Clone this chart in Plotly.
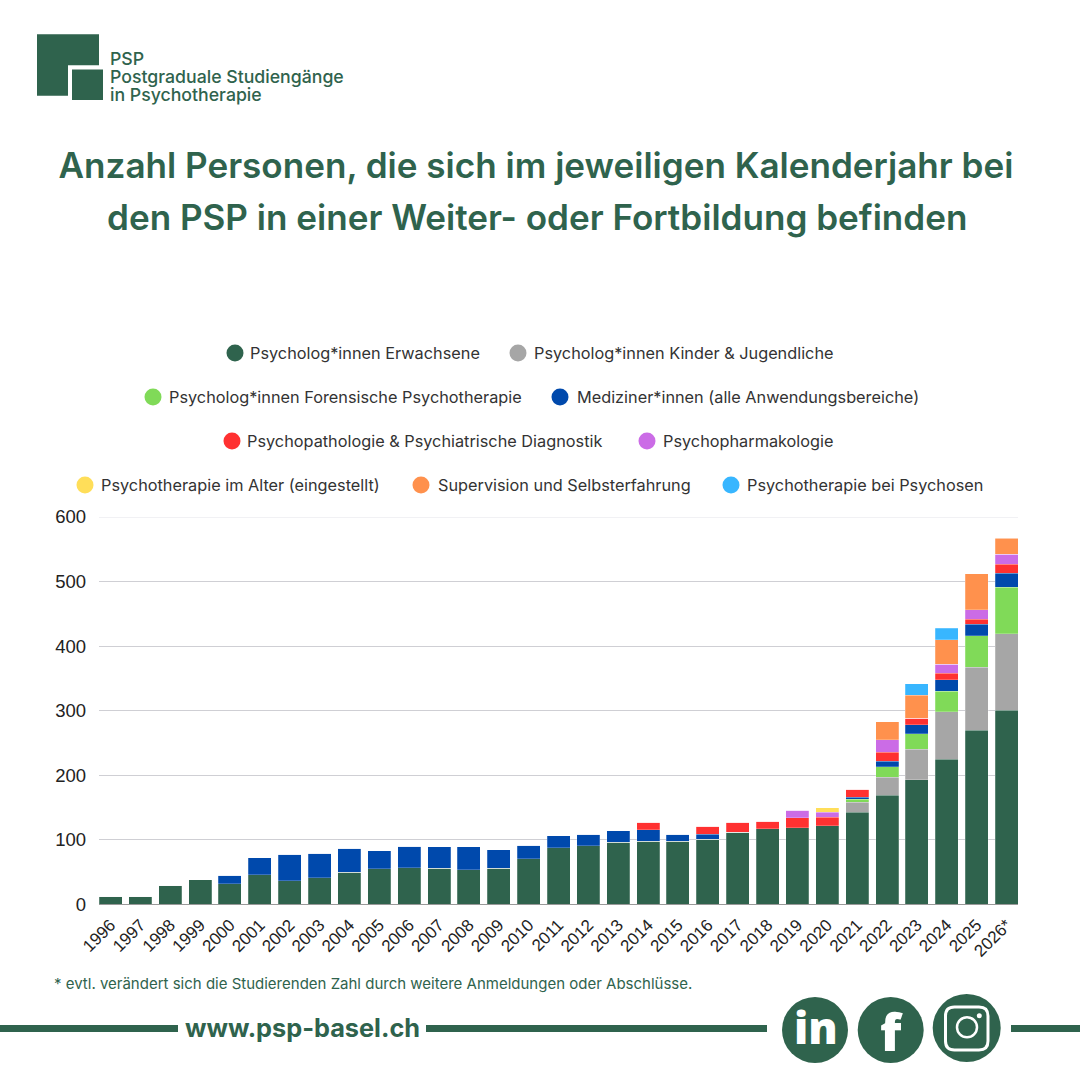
import plotly.graph_objects as go

years = [str(y) for y in range(1996, 2026)] + ["2026*"]
# values per year, one list per series (segment sizes)
psy_erw = [13, 13, 30, 38, 32, 46, 37, 41, 50, 55, 57, 56, 54, 56, 71, 88, 91, 96, 98, 98, 101, 112, 117, 119, 122, 143, 169, 193, 225, 270, 301]
psy_kj = [0]*25 + [15, 28, 47, 73, 97, 118]
psy_for = [0]*25 + [5, 16, 24, 32, 49, 72]
med = [0, 0, 0, 0, 13, 26, 41, 38, 37, 28, 33, 33, 35, 29, 21, 18, 18, 18, 18, 11, 8, 0, 0, 0, 0, 3, 9, 14, 18, 18, 22]
patho = [0]*18 + [11, 0, 12, 15, 12, 15, 13, 12, 14, 10, 10, 8, 14]
pharma = [0]*23 + [12, 8, 0, 19, 0, 14, 14, 15]
alter = [0]*24 + [7, 0, 0, 0, 0, 0, 0]
superv = [0]*26 + [28, 36, 38, 56, 25]
psychosen = [0]*27 + [18, 18, 0, 0]

series_names = ["Psycholog*innen Erwachsene", "Psycholog*innen Kinder & Jugendliche",
                "Psycholog*innen Forensische Psychotherapie", "Mediziner*innen (alle Anwendungsbereiche)",
                "Psychopathologie & Psychiatrische Diagnostik", "Psychopharmakologie",
                "Psychotherapie im Alter (eingestellt)", "Supervision und Selbsterfahrung",
                "Psychotherapie bei Psychosen"]
series_values = [psy_erw, psy_kj, psy_for, med, patho, pharma, alter, superv, psychosen]
colors = ["#2F634D", "#A6A6A6", "#80DA58", "#0049AC", "#FF3131", "#CB6CE6", "#FFDE59", "#FF914D", "#38B6FF"]
y_ticks = [0, 100, 200, 300, 400, 500, 600]

GREEN = "#2F634D"
W = 1080
def X(p): return p / W
def Y(p): return 1 - p / W

fig = go.Figure()
for n, v, c in zip(series_names, series_values, colors):
    fig.add_bar(x=years, y=v, name=n, marker=dict(color=c, line=dict(width=0.5, color="rgba(255,255,255,0.45)")), showlegend=False)

annots = []
shapes = []
def text(x, y, s, size, font="Inter", color=GREEN, anchor="left", weight=400):
    annots.append(dict(x=X(x), y=Y(y), xref="paper", yref="paper", text=s, showarrow=False,
                       xanchor=anchor, yanchor="middle", borderpad=0, borderwidth=0,
                       font=dict(family=font, size=size, color=color, weight=weight)))
def rect(x0, y0, x1, y1, color=GREEN):
    shapes.append(dict(type="rect", xref="paper", yref="paper", x0=X(x0), x1=X(x1), y0=Y(y0), y1=Y(y1),
                       fillcolor=color, line=dict(width=0), layer="above"))
def circle(cx, cy, r, color=GREEN, line=None):
    shapes.append(dict(type="circle", xref="paper", yref="paper", x0=X(cx-r), x1=X(cx+r), y0=Y(cy-r), y1=Y(cy+r),
                       fillcolor=color, line=line or dict(width=0), layer="above"))
def path(pts, color=GREEN):
    d = "M " + " L ".join(f"{X(a):.5f},{Y(b):.5f}" for a, b in pts) + " Z"
    shapes.append(dict(type="path", xref="paper", yref="paper", path=d, fillcolor=color, line=dict(width=0), layer="above"))
def round_rect(x0, y0, x1, y1, r, width):
    P = lambda a, b: f"{X(a):.5f},{Y(b):.5f}"
    d = (f"M {P(x0+r,y0)} L {P(x1-r,y0)} Q {P(x1,y0)} {P(x1,y0+r)} L {P(x1,y1-r)} Q {P(x1,y1)} {P(x1-r,y1)} "
         f"L {P(x0+r,y1)} Q {P(x0,y1)} {P(x0,y1-r)} L {P(x0,y0+r)} Q {P(x0,y0)} {P(x0+r,y0)} Z")
    shapes.append(dict(type="path", xref="paper", yref="paper", path=d, fillcolor="rgba(0,0,0,0)",
                       line=dict(width=width, color="white"), layer="above"))

# logo
path([(37, 34.3), (99, 34.3), (99, 65.3), (68, 65.3), (68, 95.7), (37, 95.7)])
rect(72, 69.5, 103, 100)
text(110, 58.5, "PSP", 17.7, weight=500)
text(110, 76.5, "Postgraduale Studiengänge", 17.7, weight=500)
text(110, 94.5, "in Psychotherapie", 17.7, weight=500)

# second title line
text(536.5, 217, "den PSP in einer Weiter- oder Fortbildung befinden", 35.1, anchor="center", weight=600)

# legend
legend_pos = [(235, 250, 353), (518, 534, 353), (153, 169, 397), (560, 577, 397), (232, 247, 441),
              (647, 663, 441), (85, 101, 485), (421, 438, 485), (731, 747, 485)]
for (cx, tx, cy), n, c in zip(legend_pos, series_names, colors):
    circle(cx, cy, 8.5, c)
    text(tx, cy, n, 16.3, color="#333333")

# lighter top gridline
shapes.append(dict(type="line", xref="x domain", yref="y", x0=0, x1=1, y0=600, y1=600,
                   line=dict(width=1.5, color="#EDEDF1"), layer="below"))

# footer
text(54, 983, "* evtl. verändert sich die Studierenden Zahl durch weitere Anmeldungen oder Abschlüsse.", 15)
text(185, 1027, "www.psp-basel.ch", 25.3, weight=700)
rect(0, 1025, 178, 1032)
rect(426, 1025, 767, 1032)
rect(1011, 1025, 1080, 1032)

# social icons
circle(815, 1030, 33)
circle(890.7, 1030, 33)
circle(966.7, 1028, 34)
text(816, 1027, "in", 44, font="Open Sans", color="white", anchor="center", weight=800)
text(891, 1030, "f", 52, font="Open Sans", color="white", anchor="center", weight=800)
round_rect(945.5, 1007, 988, 1050, 9, 3)
circle(967, 1027.3, 10, "rgba(0,0,0,0)", dict(width=2.5, color="white"))
circle(979.3, 1015.7, 2.5, "white")

fig.update_layout(
    width=W, height=W, margin=dict(l=0, r=0, t=0, b=0, pad=0), autosize=False,
    paper_bgcolor="white", plot_bgcolor="rgba(0,0,0,0)", barmode="stack", bargap=0.23,
    title=dict(text="Anzahl Personen, die sich im jeweiligen Kalenderjahr bei",
               x=536/W, xanchor="center", y=Y(166), yanchor="middle", automargin=False,
               font=dict(family="Inter", size=35.1, color=GREEN, weight=600)),
    xaxis=dict(domain=[X(99), X(1018)], range=[-0.385, 30.385], type="category", tickangle=-45, showgrid=False, automargin=False,
               ticks="", showline=True, linecolor="#999999", linewidth=1, ticklabelstandoff=3,
               tickfont=dict(family="Liberation Sans", size=17, color="#222222")),
    yaxis=dict(domain=[Y(904.4), Y(517)], range=[0, 600], tickvals=y_ticks, gridcolor="#CFCFD4", gridwidth=1, showline=False, automargin=False,
               zeroline=False, ticks="", ticklabelstandoff=12, tickfont=dict(family="Liberation Sans", size=18.5, color="#222222")),
    annotations=annots, shapes=shapes,
)
fig.write_html("out.html", config=dict(displayModeBar=False),
               post_script="document.body.style.margin='0';document.body.style.background='white';")
